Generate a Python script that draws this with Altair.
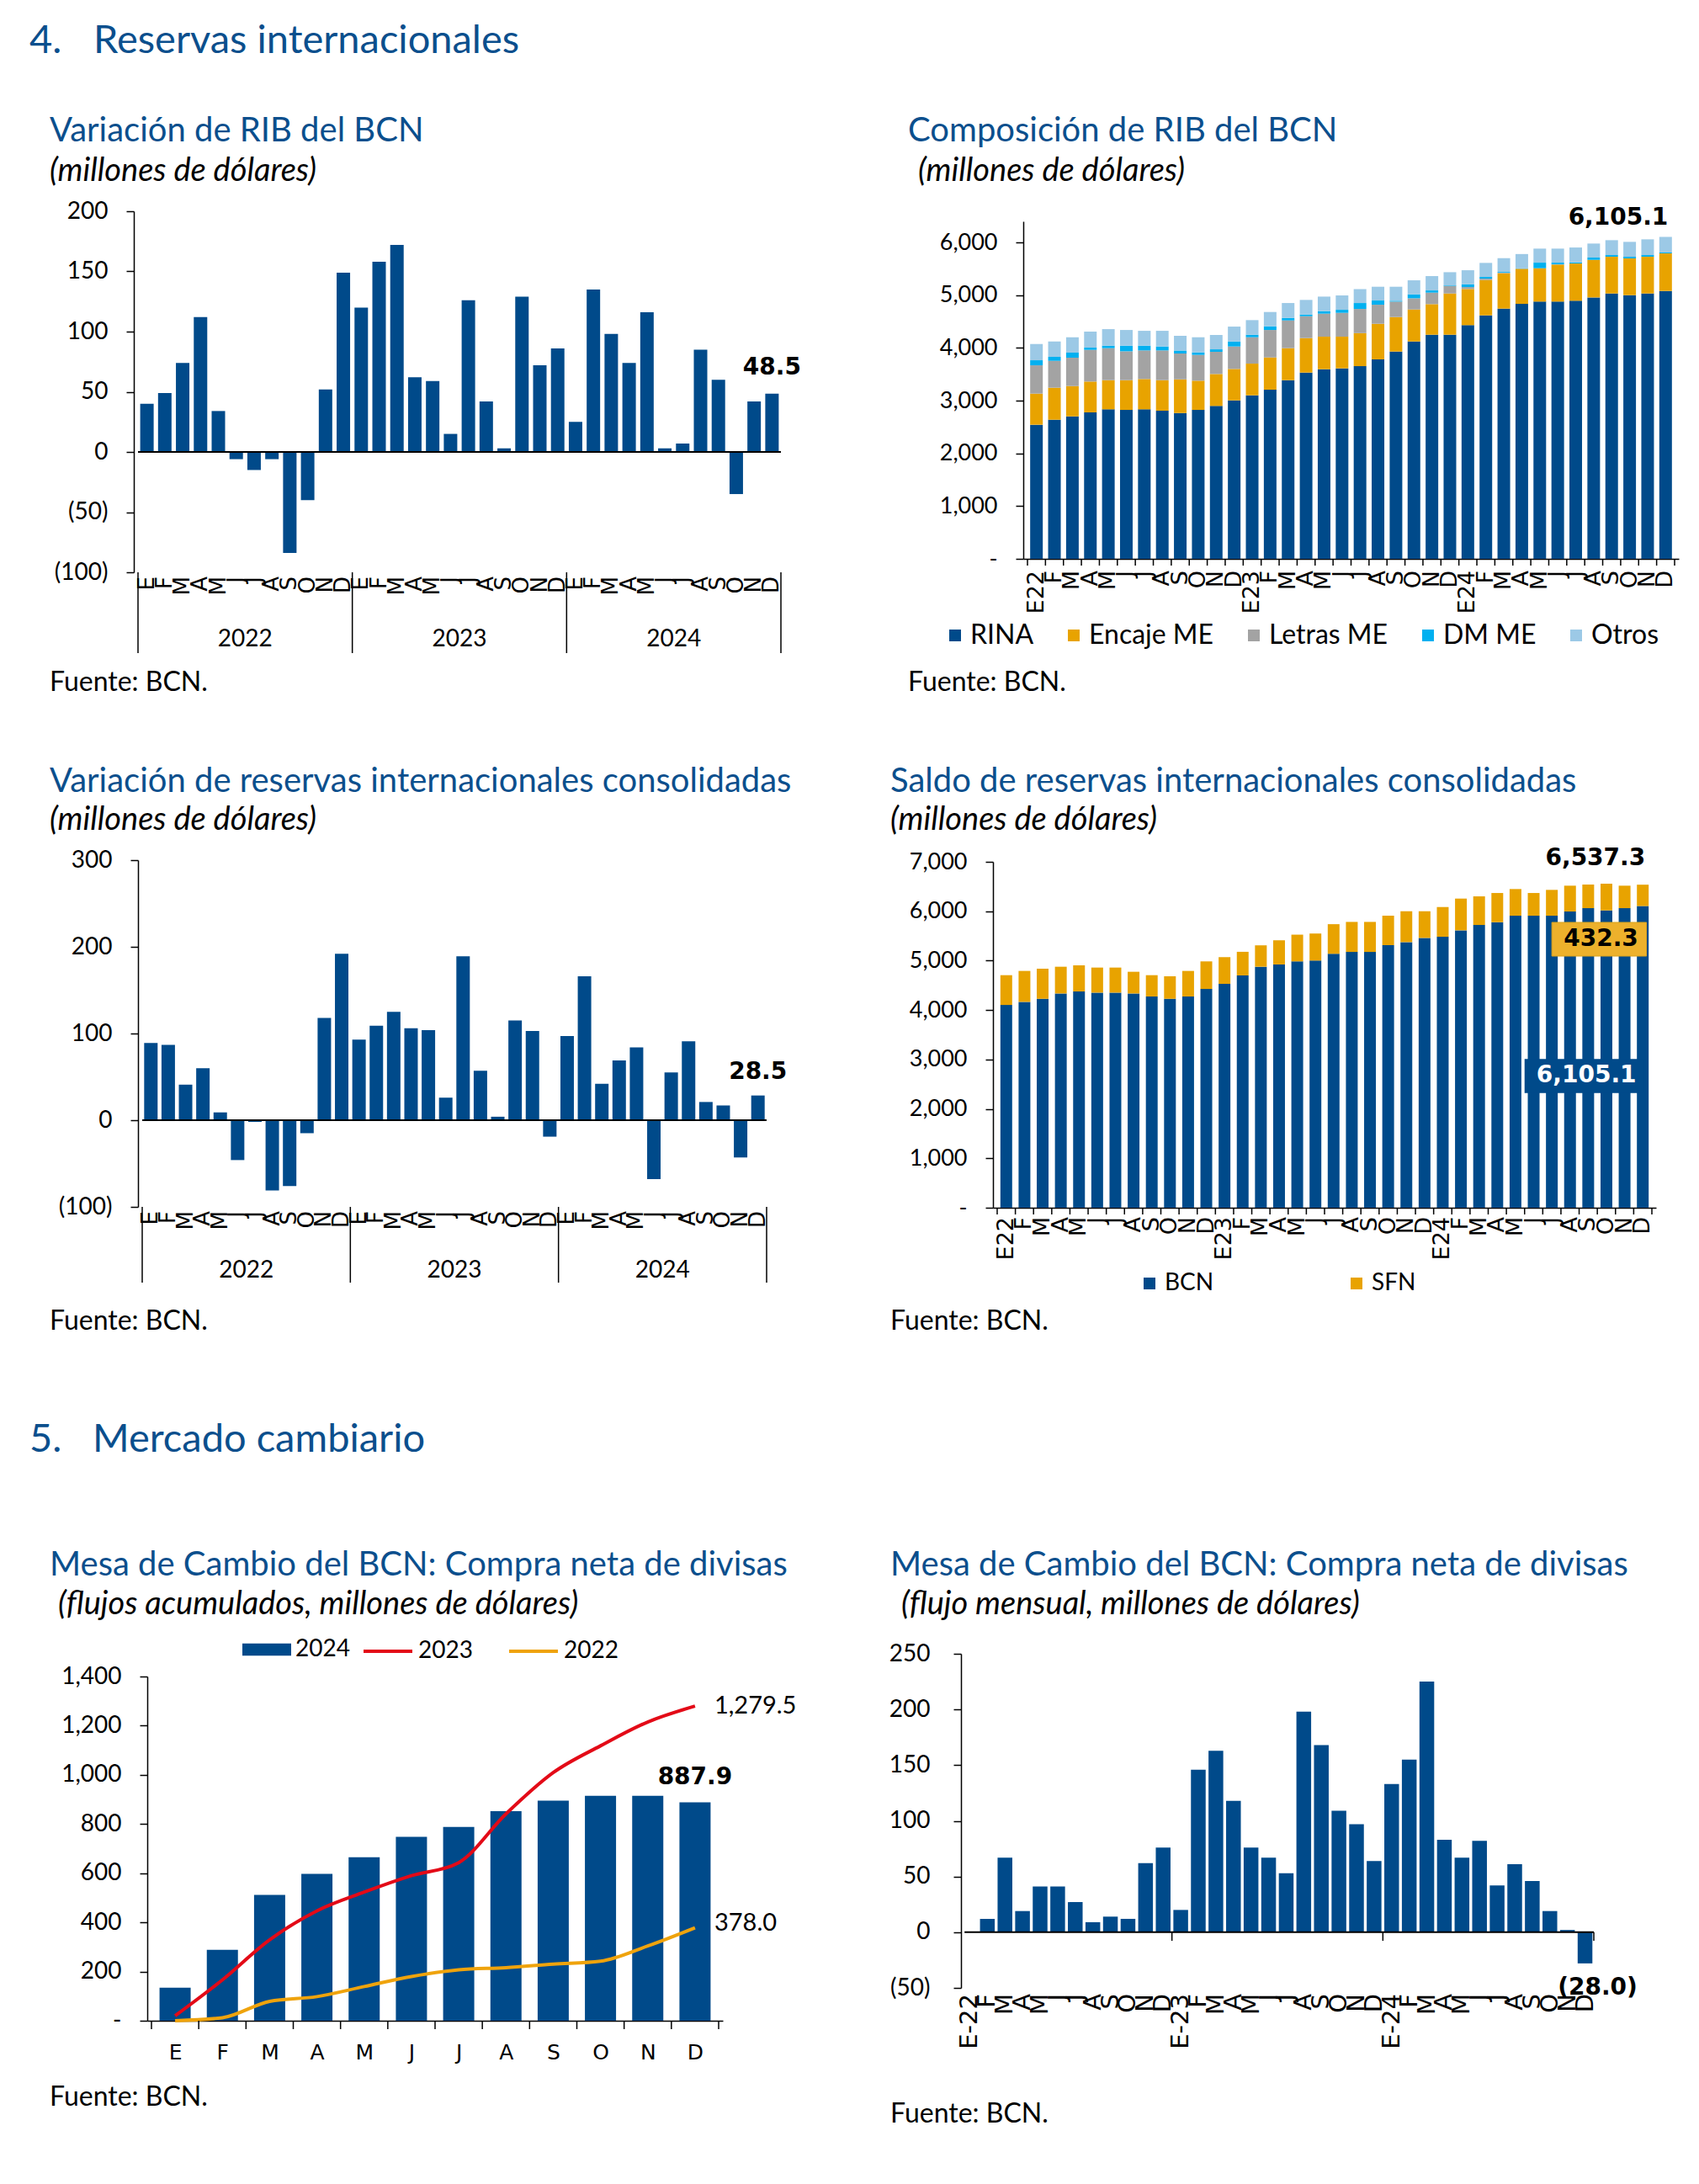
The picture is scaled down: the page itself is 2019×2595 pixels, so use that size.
import altair as alt
import pandas as pd

# ---------------- data ----------------
MES = ["E", "F", "M", "A", "M", "J", "J", "A", "S", "O", "N", "D"]
YEARS = ["2022", "2023", "2024"]
N = 36
IDX = list(range(N))
YEAR_BOUNDS = [-0.5, 11.5, 23.5, 35.5]
YEAR_MID = [5.5, 17.5, 29.5]
BOUNDS36 = [i - 0.5 for i in range(N + 1)]
BOUNDS12 = [i - 0.5 for i in range(13)]

LAB_SHORT = []
LAB_DASH = []
for yy in ["22", "23", "24"]:
    LAB_SHORT += ["E" + yy] + MES[1:]
    LAB_DASH += ["E-" + yy] + MES[1:]

# Variación de RIB del BCN
rib_var = [40, 49, 74, 112, 34, -6, -15, -6, -84, -40, 52, 149,
           120, 158, 172, 62, 59, 15, 126, 42, 3, 129, 72, 86,
           25, 135, 98, 74, 116, 3, 7, 85, 60, -35, 42, 48.5]

# Composición de RIB del BCN
SER2 = ["RINA", "Encaje ME", "Letras ME", "DM ME", "Otros"]
rina = [2543, 2638, 2702, 2777, 2835, 2824, 2835, 2809, 2766, 2824, 2899, 3005,
        3101, 3207, 3388, 3532, 3596, 3612, 3654, 3782, 3931, 4122, 4250, 4250,
        4431, 4617, 4745, 4835, 4878, 4878, 4894, 4957, 5032, 5000, 5032, 5080]
encaje = [590, 607, 575, 585, 553, 564, 575, 579, 638, 554, 606, 596,
          601, 612, 607, 654, 617, 601, 626, 675, 654, 607, 580, 782,
          686, 670, 670, 665, 633, 702, 707, 713, 697, 697, 697, 713]
letras = [537, 510, 537, 601, 607, 548, 542, 564, 490, 489, 421, 426,
          500, 521, 526, 415, 436, 452, 459, 362, 293, 212, 218, 144,
          37, 27, 11, 3, 0, 5, 0, 0, 0, 0, 0, 0]
dm_me = [96, 75, 96, 42, 48, 107, 91, 75, 58, 48, 47, 95,
         48, 70, 48, 32, 48, 58, 112, 80, 16, 75, 42, 10,
         53, 32, 15, 5, 106, 32, 21, 43, 32, 32, 32, 16]
otros = [308, 292, 292, 304, 313, 297, 281, 297, 277, 287, 272, 282,
         277, 271, 282, 277, 276, 272, 264, 261, 266, 266, 272, 250,
         266, 266, 261, 272, 266, 266, 282, 266, 282, 282, 298, 296.1]

# Variación de reservas internacionales consolidadas
cons_var = [89, 87, 41, 60, 9, -46, -2, -81, -76, -15, 118, 192,
            93, 109, 125, 106, 104, 26, 189, 57, 4, 115, 103, -19,
            97, 166, 42, 69, 84, -68, 55, 91, 21, 17, -43, 28.5]

# Saldo de reservas internacionales consolidadas
SER4 = ["BCN", "SFN"]
bcn = [4103, 4166, 4228, 4336, 4376, 4353, 4353, 4336, 4274, 4228, 4274, 4427,
       4530, 4701, 4877, 4923, 4985, 5002, 5139, 5176, 5176, 5312, 5375, 5460,
       5483, 5614, 5722, 5778, 5909, 5909, 5909, 5994, 6062, 6017, 6062, 6105.1]
sfn = [603, 626, 609, 541, 529, 507, 507, 439, 432, 456, 518, 558,
       541, 478, 433, 489, 541, 547, 599, 608, 608, 597, 625, 540,
       602, 642, 579, 591, 540, 460, 523, 523, 478, 540, 455, 432.3]
saldo_total_label = 6537.3

# Mesa de cambio: acumulado
cum_2024 = [134, 288, 512, 597, 665, 748, 788, 852, 895, 915, 915, 887.9]
cum_2023 = [20, 166, 329, 447, 523, 590, 643, 841, 1009, 1118, 1215, 1279.5]
cum_2022 = [0, 12, 79, 98, 139, 180, 207, 216, 230, 242, 304, 378.0]

# Mesa de cambio: flujo mensual
flujo = [0, 12, 67, 19, 41, 41, 27, 9, 14, 12, 62, 76,
         20, 146, 163, 118, 76, 67, 53, 198, 168, 109, 97, 64,
         133, 155, 225, 83, 67, 82, 42, 61, 46, 19, 2, -28.0]

# ---------------- style ----------------
BLUE = "#004A8A"
TBLUE = "#0B4F8D"
GOLD = "#E8A300"
GRAY = "#A3A3A3"
CYAN = "#00B0F0"
LBLUE = "#9CC9E6"
RED = "#E30A17"
ORANGE = "#EFA30C"
FUT = "Lato"
VER = "DejaVu Sans"

ONE = pd.DataFrame({"k": [0]})


def tx(x, y, s, size, font=FUT, color="black", weight="normal", style="normal",
       align="left", baseline="middle"):
    return alt.Chart(ONE).mark_text(
        text=s, font=font, fontSize=size, color=color, fontWeight=weight,
        fontStyle=style, align=align, baseline=baseline
    ).encode(x=alt.value(x), y=alt.value(y))


def yaxis(values, offset=0, zero_dash=False, size=28, pad=22):
    if zero_dash:
        expr = "datum.value == 0 ? '-' : format(datum.value, ',')"
    else:
        expr = "datum.value < 0 ? '(' + format(-datum.value, ',') + ')' : format(datum.value, ',')"
    return alt.Axis(values=values, labelExpr=expr, title=None, grid=False,
                    labelFont=FUT, labelFontSize=size, labelColor="black",
                    domainColor="black", domainWidth=1.5, tickColor="black",
                    tickWidth=1.5, tickSize=9, labelPadding=pad, offset=offset,
                    labelOverlap=False, labelFlush=False)


def base_xaxis(offset):
    # only the axis line (the category labels are drawn as rotated text below)
    return alt.Axis(labels=False, ticks=False, domain=True, domainColor="black",
                    domainWidth=1.5, grid=False, title=None, offset=offset)


def month_labels(labels, X, y, size, font=VER):
    d = pd.DataFrame({"i": list(range(len(labels))), "t": labels})
    return alt.Chart(d).mark_text(font=font, fontSize=size, angle=270, align="right",
                                  baseline="middle", color="black").encode(
        x=alt.X("i:Q", scale=X), y=alt.value(y), text="t:N")


def titles(x, title, sub, fuente_y, sub_x=None, title_y=-95, sub_y=-47):
    return [
        tx(x, title_y, title, 40, color=TBLUE),
        tx(sub_x if sub_x is not None else x, sub_y, sub, 38, style="italic"),
        tx(x, fuente_y, "Fuente: BCN.", 32),
    ]


W1, W2 = 978, 860
H1, H2, H3 = 771, 943, 436

# ---------------- panel 1 ----------------
X1 = alt.Scale(domain=[-0.5, 35.5], range=[-5, 769], nice=False, zero=False)
Y1 = alt.Scale(domain=[-100, 200], range=[429, 0], nice=False, zero=False)
d1 = pd.DataFrame({"i": IDX, "v": rib_var, "z": 0})
p1_bars = alt.Chart(d1).mark_bar(color=BLUE, size=16).encode(
    x=alt.X("i:Q", scale=X1, axis=None),
    y=alt.Y("v:Q", scale=Y1, axis=yaxis([-100, -50, 0, 50, 100, 150, 200], offset=5)),
    y2="z",
)
p1_zero = alt.Chart(pd.DataFrame({"a": [-0.5], "b": [35.5], "y": [0]})).mark_rule(
    color="black", strokeWidth=2).encode(
    x=alt.X("a:Q", scale=X1), x2="b", y=alt.Y("y:Q", scale=Y1))
p1_sep = alt.Chart(pd.DataFrame({"b": YEAR_BOUNDS})).mark_rule(
    color="black", strokeWidth=1.5).encode(
    x=alt.X("b:Q", scale=X1), y=alt.value(429), y2=alt.value(525))
p1_year = alt.Chart(pd.DataFrame({"c": YEAR_MID, "t": YEARS})).mark_text(
    font=FUT, fontSize=28, align="center", baseline="middle").encode(
    x=alt.X("c:Q", scale=X1), y=alt.value(509), text="t:N")
p1_lab = alt.Chart(pd.DataFrame({"i": [35], "v": [rib_var[-1]],
                                 "t": [f"{rib_var[-1]:.1f}"]})).mark_text(
    font=VER, fontWeight="bold", fontSize=28, dy=-31).encode(
    x=alt.X("i:Q", scale=X1), y=alt.Y("v:Q", scale=Y1), text="t:N")
anchor = alt.Chart(ONE).mark_rule(color="white", strokeWidth=1).encode(
    x=alt.value(-155), x2=alt.value(-155), y=alt.value(-242), y2=alt.value(-242))
p1 = alt.layer(
    p1_bars, p1_zero, p1_sep, p1_year, p1_lab,
    month_labels(MES * 3, X1, 434, 26), anchor,
    tx(-129, -202, "4.", 47, color=TBLUE),
    tx(-53, -202, "Reservas internacionales", 47, color=TBLUE),
    *titles(-105, "Variación de RIB del BCN", "(millones de dólares)", 560),
).properties(width=W1, height=H1)

# ---------------- panel 2 ----------------
X2 = alt.Scale(domain=[-0.5, 35.5], range=[74, 853], nice=False, zero=False)
Y2 = alt.Scale(domain=[0, 6400], range=[413, 12], nice=False, zero=False)
rows = []
for i in IDX:
    base = 0.0
    for s, arr in zip(SER2, [rina, encaje, letras, dm_me, otros]):
        rows.append({"i": i, "s": s, "y0": base, "y1": base + arr[i]})
        base += arr[i]
d2 = pd.DataFrame(rows)
tot2 = rina[-1] + encaje[-1] + letras[-1] + dm_me[-1] + otros[-1]
p2_bars = alt.Chart(d2).mark_bar(size=15).encode(
    x=alt.X("i:Q", scale=X2, axis=base_xaxis(-(H1 - 413))),
    y=alt.Y("y0:Q", scale=Y2, axis=yaxis(list(range(0, 6001, 1000)), offset=-74,
                                         zero_dash=True, size=27)),
    y2="y1",
    color=alt.Color("s:N", scale=alt.Scale(domain=SER2, range=[BLUE, GOLD, GRAY, CYAN, LBLUE]),
                    legend=alt.Legend(orient="none", legendX=-23, legendY=488,
                                      direction="horizontal", columns=5, title=None,
                                      symbolType="square", symbolSize=196,
                                      symbolStrokeWidth=0, labelFont=FUT,
                                      labelFontSize=32, labelColor="black",
                                      columnPadding=31, labelOffset=2)),
)
p2_ticks = alt.Chart(pd.DataFrame({"b": BOUNDS36, "z": 0})).mark_rule(
    color="black", strokeWidth=1.5).encode(
    x=alt.X("b:Q", scale=X2), y=alt.Y("z:Q", scale=Y2), y2=alt.value(421))
p2_lab = alt.Chart(pd.DataFrame({"i": [35], "v": [tot2], "t": [f"{tot2:,.1f}"]})).mark_text(
    font=VER, fontWeight="bold", fontSize=28, align="right", dx=3, dy=-22).encode(
    x=alt.X("i:Q", scale=X2), y=alt.Y("v:Q", scale=Y2), text="t:N")
p2 = alt.layer(
    p2_bars, p2_ticks, p2_lab, month_labels(LAB_SHORT, X2, 427, 27),
    *titles(-63, "Composición de RIB del BCN", "(millones de dólares)", 560, sub_x=-51),
).properties(width=W2, height=H1)

# ---------------- panel 3 ----------------
X3 = alt.Scale(domain=[-0.5, 35.5], range=[0, 752], nice=False, zero=False)
Y3 = alt.Scale(domain=[-100, 300], range=[412, 0], nice=False, zero=False)
d3 = pd.DataFrame({"i": IDX, "v": cons_var, "z": 0})
p3_bars = alt.Chart(d3).mark_bar(color=BLUE, size=16).encode(
    x=alt.X("i:Q", scale=X3, axis=None),
    y=alt.Y("v:Q", scale=Y3, axis=yaxis([-100, 0, 100, 200, 300], offset=0)),
    y2="z",
)
p3_zero = alt.Chart(pd.DataFrame({"a": [-0.5], "b": [35.5], "y": [0]})).mark_rule(
    color="black", strokeWidth=2).encode(
    x=alt.X("a:Q", scale=X3), x2="b", y=alt.Y("y:Q", scale=Y3))
p3_sep = alt.Chart(pd.DataFrame({"b": YEAR_BOUNDS})).mark_rule(
    color="black", strokeWidth=1.5).encode(
    x=alt.X("b:Q", scale=X3), y=alt.value(412), y2=alt.value(502))
p3_year = alt.Chart(pd.DataFrame({"c": YEAR_MID, "t": YEARS})).mark_text(
    font=FUT, fontSize=28, align="center", baseline="middle").encode(
    x=alt.X("c:Q", scale=X3), y=alt.value(488), text="t:N")
p3_lab = alt.Chart(pd.DataFrame({"i": [35], "v": [cons_var[-1]],
                                 "t": [f"{cons_var[-1]:.1f}"]})).mark_text(
    font=VER, fontWeight="bold", fontSize=28, dy=-28).encode(
    x=alt.X("i:Q", scale=X3), y=alt.Y("v:Q", scale=Y3), text="t:N")
p3 = alt.layer(
    p3_bars, p3_zero, p3_sep, p3_year, p3_lab, month_labels(MES * 3, X3, 417, 26),
    *titles(-105, "Variación de reservas internacionales consolidadas",
            "(millones de dólares)", 548, title_y=-93, sub_y=-47),
).properties(width=W1, height=H2)

# ---------------- panel 4 ----------------
X4 = alt.Scale(domain=[-0.5, 35.5], range=[38, 826], nice=False, zero=False)
Y4 = alt.Scale(domain=[0, 7000], range=[413, 2], nice=False, zero=False)
rows = []
for i in IDX:
    rows.append({"i": i, "s": "BCN", "y0": 0, "y1": bcn[i]})
    rows.append({"i": i, "s": "SFN", "y0": bcn[i], "y1": bcn[i] + sfn[i]})
d4 = pd.DataFrame(rows)
p4_bars = alt.Chart(d4).mark_bar(size=14).encode(
    x=alt.X("i:Q", scale=X4, axis=base_xaxis(-(H2 - 413))),
    y=alt.Y("y0:Q", scale=Y4, axis=yaxis(list(range(0, 7001, 1000)), offset=-38,
                                         zero_dash=True, size=27)),
    y2="y1",
    color=alt.Color("s:N", scale=alt.Scale(domain=SER4, range=[BLUE, GOLD]),
                    legend=alt.Legend(orient="none", legendX=210, legendY=489,
                                      direction="horizontal", columns=2, title=None,
                                      symbolType="square", symbolSize=196,
                                      symbolStrokeWidth=0, labelFont=FUT,
                                      labelFontSize=28, labelColor="black",
                                      columnPadding=155, labelOffset=4)),
)
p4_ticks = alt.Chart(pd.DataFrame({"b": BOUNDS36, "z": 0})).mark_rule(
    color="black", strokeWidth=1.5).encode(
    x=alt.X("b:Q", scale=X4), y=alt.Y("z:Q", scale=Y4), y2=alt.value(421))
box = pd.DataFrame({
    "x0": [30.0, 28.5], "x1": [35.2, 35.0], "y0": [5092, 2320], "y1": [5774, 3010]})
p4_box_sfn = alt.Chart(box.iloc[[0]]).mark_rect(color="#EDB12C", stroke="#D9A21E",
                                                strokeWidth=1).encode(
    x=alt.X("x0:Q", scale=X4), x2="x1", y=alt.Y("y0:Q", scale=Y4), y2="y1")
p4_box_bcn = alt.Chart(box.iloc[[1]]).mark_rect(color=BLUE).encode(
    x=alt.X("x0:Q", scale=X4), x2="x1", y=alt.Y("y0:Q", scale=Y4), y2="y1")
ann4 = pd.DataFrame({"i": [32.7, 31.9], "v": [5433, 2674],
                     "t": [f"{sfn[-1]:.1f}", f"{bcn[-1]:,.1f}"],
                     "c": ["black", "white"]})
p4_ann = alt.Chart(ann4).mark_text(font=VER, fontWeight="bold", fontSize=28).encode(
    x=alt.X("i:Q", scale=X4), y=alt.Y("v:Q", scale=Y4),
    text="t:N", color=alt.Color("c:N", scale=None, legend=None))
p4_lab = alt.Chart(pd.DataFrame({"i": [35], "v": [saldo_total_label],
                                 "t": [f"{saldo_total_label:,.1f}"]})).mark_text(
    font=VER, fontWeight="bold", fontSize=28, align="right", dx=3, dy=-31).encode(
    x=alt.X("i:Q", scale=X4), y=alt.Y("v:Q", scale=Y4), text="t:N")
p4 = alt.layer(
    p4_bars, p4_ticks, p4_box_sfn, p4_box_bcn, p4_ann, p4_lab,
    month_labels(LAB_SHORT, X4, 424, 27),
    *titles(-84, "Saldo de reservas internacionales consolidadas",
            "(millones de dólares)", 548, title_y=-93, sub_y=-47),
).properties(width=W2, height=H2)

# ---------------- panel 5 ----------------
X5 = alt.Scale(domain=[-0.5, 11.5], range=[11, 695], nice=False, zero=False)
Y5 = alt.Scale(domain=[0, 1400], range=[436, 27], nice=False, zero=False)
d5b = pd.DataFrame({"i": list(range(12)), "v": cum_2024, "z": 0, "s": "2024"})
d5l = pd.DataFrame({"i": list(range(12)) * 2, "v": cum_2023 + cum_2022,
                    "s": ["2023"] * 12 + ["2022"] * 12})
arr5 = "[" + ",".join("'" + m + "'" for m in MES) + "]"
p5_bars = alt.Chart(d5b).mark_bar(size=37).encode(
    x=alt.X("i:Q", scale=X5, axis=alt.Axis(
        values=list(range(12)), labelExpr=arr5 + "[datum.value]", labelAngle=0,
        labelAlign="center", labelBaseline="top", ticks=False, domain=True,
        domainColor="black", domainWidth=1.5, grid=False, title=None, labelFont=VER,
        labelFontSize=25, labelColor="black", labelPadding=25, labelOverlap=False,
        labelFlush=False)),
    y=alt.Y("v:Q", scale=Y5, axis=yaxis(list(range(0, 1401, 200)), offset=-11,
                                        zero_dash=True)),
    y2="z",
    color=alt.Color("s:N", scale=alt.Scale(domain=["2024"], range=[BLUE]),
                    legend=alt.Legend(orient="none", legendX=124, legendY=-34,
                                      direction="horizontal", title=None,
                                      symbolType="M-1,-0.25H1V0.25H-1Z",
                                      symbolSize=3364, symbolStrokeWidth=0,
                                      labelFont=FUT, labelFontSize=28,
                                      labelColor="black", labelOffset=5)),
)
p5_lines = alt.Chart(d5l).mark_line(strokeWidth=4, interpolate="monotone").encode(
    x=alt.X("i:Q", scale=X5),
    y=alt.Y("v:Q", scale=Y5),
    stroke=alt.Stroke("s:N", scale=alt.Scale(domain=["2023", "2022"], range=[RED, ORANGE]),
                      legend=alt.Legend(orient="none", legendX=266, legendY=-34,
                                        direction="horizontal", columns=2, title=None,
                                        symbolType="stroke", symbolSize=3364,
                                        symbolStrokeWidth=4, labelFont=FUT,
                                        labelFontSize=28, labelColor="black",
                                        labelOffset=5, columnPadding=35)),
)
p5_ticks = alt.Chart(pd.DataFrame({"b": BOUNDS12, "z": 0})).mark_rule(
    color="black", strokeWidth=1.5).encode(
    x=alt.X("b:Q", scale=X5), y=alt.Y("z:Q", scale=Y5), y2=alt.value(446))
p5_end23 = alt.Chart(pd.DataFrame({"i": [11], "v": [cum_2023[-1]],
                                   "t": [f"{cum_2023[-1]:,.1f}"]})).mark_text(
    font=FUT, fontSize=29, align="left", dx=23).encode(
    x=alt.X("i:Q", scale=X5), y=alt.Y("v:Q", scale=Y5), text="t:N")
p5_end22 = alt.Chart(pd.DataFrame({"i": [11], "v": [cum_2022[-1]],
                                   "t": [f"{cum_2022[-1]:,.1f}"]})).mark_text(
    font=FUT, fontSize=29, align="left", dx=23, dy=-6).encode(
    x=alt.X("i:Q", scale=X5), y=alt.Y("v:Q", scale=Y5), text="t:N")
p5_lab = alt.Chart(pd.DataFrame({"i": [11], "v": [cum_2024[-1]],
                                 "t": [f"{cum_2024[-1]:,.1f}"]})).mark_text(
    font=VER, fontWeight="bold", fontSize=28, dy=-30).encode(
    x=alt.X("i:Q", scale=X5), y=alt.Y("v:Q", scale=Y5), text="t:N")
p5 = alt.layer(
    p5_bars, p5_lines, p5_ticks, p5_end23, p5_end22, p5_lab,
    tx(-129, -254, "5.", 47, color=TBLUE),
    tx(-54, -254, "Mercado cambiario", 47, color=TBLUE),
    *titles(-105, "Mesa de Cambio del BCN: Compra neta de divisas",
            "(flujos acumulados, millones de dólares)", 527, sub_x=-95,
            title_y=-105, sub_y=-58),
).properties(width=W1, height=H3)

# ---------------- panel 6 ----------------
X6 = alt.Scale(domain=[-0.5, 35.5], range=[-5, 757], nice=False, zero=False)
Y6 = alt.Scale(domain=[-50, 250], range=[397, 0], nice=False, zero=False)
d6 = pd.DataFrame({"i": IDX, "v": flujo, "z": 0})
p6_bars = alt.Chart(d6).mark_bar(color=BLUE, size=17.5).encode(
    x=alt.X("i:Q", scale=X6, axis=None),
    y=alt.Y("v:Q", scale=Y6, axis=yaxis([-50, 0, 50, 100, 150, 200, 250], offset=0,
                                        pad=28)),
    y2="z",
)
p6_zero = alt.Chart(pd.DataFrame({"a": [-0.3], "b": [35.5], "y": [0]})).mark_rule(
    color="black", strokeWidth=2).encode(
    x=alt.X("a:Q", scale=X6), x2="b", y=alt.Y("y:Q", scale=Y6))
p6_ticks = alt.Chart(pd.DataFrame({"b": YEAR_BOUNDS[1:], "z": 0})).mark_rule(
    color="black", strokeWidth=1.5).encode(
    x=alt.X("b:Q", scale=X6), y=alt.Y("z:Q", scale=Y6), y2=alt.value(341))
p6_lab = alt.Chart(pd.DataFrame({"i": [35], "v": [flujo[-1]],
                                 "t": [f"({-flujo[-1]:.1f})"]})).mark_text(
    font=VER, fontWeight="bold", fontSize=28, dx=15, dy=29).encode(
    x=alt.X("i:Q", scale=X6), y=alt.Y("v:Q", scale=Y6), text="t:N")
p6 = alt.layer(
    p6_bars, p6_zero, p6_ticks, month_labels(LAB_DASH, X6, 404, 29), p6_lab,
    *titles(-84, "Mesa de Cambio del BCN: Compra neta de divisas",
            "(flujo mensual, millones de dólares)", 547, sub_x=-71,
            title_y=-105, sub_y=-58),
).properties(width=W2, height=H3)

chart = alt.concat(
    p1, p2, p3, p4, p5, p6, columns=2, spacing=0, bounds="flush"
).resolve_scale(
    color="independent", stroke="independent"
).resolve_legend(
    color="independent", stroke="independent"
).properties(
    padding={"left": 0, "top": 0, "right": 6, "bottom": 6}, background="white"
).configure_view(stroke=None)

chart.save("out.html", embed_options={"renderer": "svg", "actions": False})
